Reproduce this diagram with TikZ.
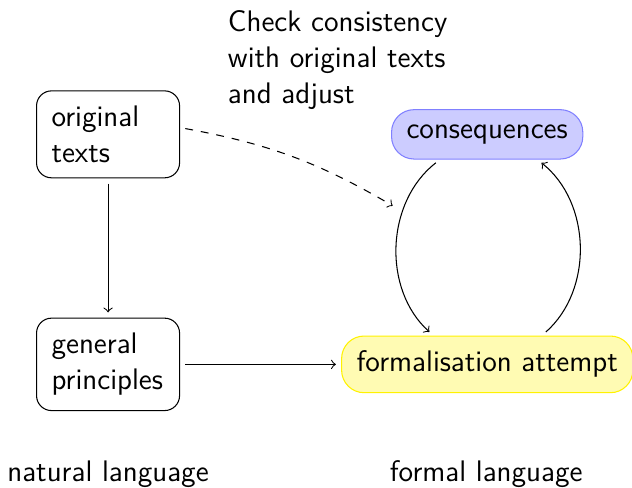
\documentclass[tikz,border=0pt]{standalone}
\usetikzlibrary{positioning}

\begin{document}
\begin{tikzpicture}[
    font=\sffamily\fontsize{11.3}{13.7}\selectfont,
    % boxes on the natural language side
    textbox/.style={
        draw=black,
        rounded corners=0.2cm,
        text width=1.51cm,
        inner sep=0.2cm,
        align=left
    },
    % boxes on the formal side
    formalbox/.style={
        rounded corners=0.3cm,
        inner sep=0.2cm
    },
    flow/.style={
        ->,
        shorten >=2pt,
        shorten <=2pt
    },
    note/.style={align=left}
]
    \useasboundingbox (0,0) rectangle (8.44,6.51);

    % --- nodes ---
    \node[textbox] (orig) at (1.443,4.716) {original\\texts};
    \node[textbox] (principles) [below=1.86cm of orig] {general\\principles};
    \node[formalbox, draw=yellow, fill=yellow!30] (formal) [right=2.15cm of principles] {formalisation attempt};
    \node[formalbox, draw=blue!50, fill=blue!20] (cons) at (6.506,4.716) {consequences};

    \node[note, anchor=north west] (check) at (2.92,6.50) {Check consistency\\with original texts\\and adjust};

    \node (natural) at (1.443,0.18) {natural language};
    \node (formallang) at (6.493,0.18) {formal language};

    \coordinate (adjust) at (5.304,3.727);

    % --- edges ---
    \draw[flow] (orig) -- (principles);
    \draw[flow] (principles) -- (formal);
    \draw[flow, dashed] ([yshift=0.09cm]orig.east) to[bend left=10] (adjust);
    \draw[flow] ([xshift=-0.63cm]cons.south) to[bend right=50] ([xshift=-0.72cm]formal.north);
    \draw[flow] ([xshift=0.73cm]formal.north) to[bend right=50] ([xshift=0.67cm]cons.south);

\end{tikzpicture}
\end{document}
